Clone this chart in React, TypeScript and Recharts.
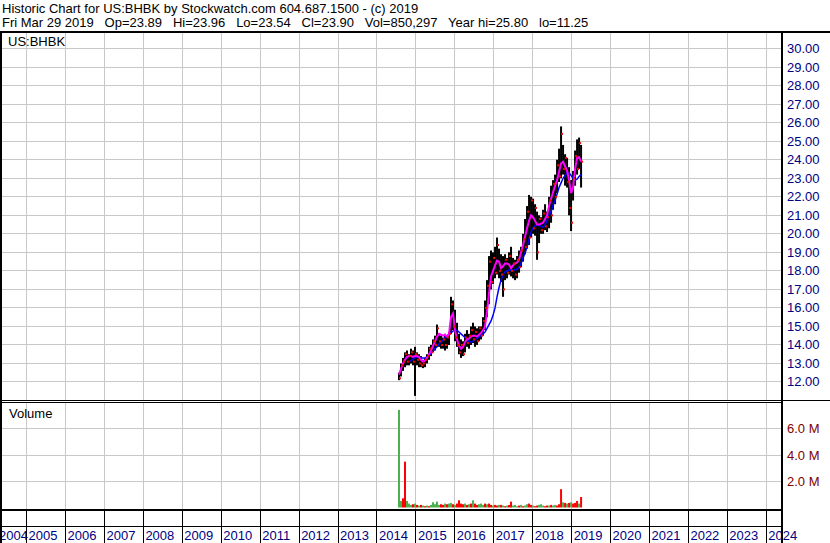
import { ComposedChart, Bar, Line, Scatter, XAxis, YAxis, CartesianGrid, Cell } from 'recharts';

// one plotted bar every ~19 days, first one in late July 2014
const FIRST_BAR = 2014.565;
const BAR_STEP = 0.0514;

const HIGH = [
  12.5, 13.0, 13.3, 13.6, 13.7, 13.5, 13.8, 13.7, 13.9, 13.6, 13.5, 13.4, 13.2, 13.3, 13.5, 13.9, 14.0, 14.3, 14.5, 15.1,
  14.6, 14.5, 14.4, 14.6, 14.5, 14.7, 16.6, 16.4, 15.9, 15.2, 14.6, 14.3, 14.2, 14.6, 14.8, 14.6, 15.0, 15.2, 15.0, 14.9,
  15.0, 15.0, 15.5, 16.4, 17.5, 18.8, 19.1, 19.0, 19.3, 19.8, 19.2, 18.9, 18.8, 18.9, 18.7, 19.0, 19.3, 18.7, 18.6, 18.8,
  19.1, 19.3, 20.0, 20.8, 21.5, 22.1, 22.0, 21.9, 21.6, 21.2, 21.0, 20.9, 21.3, 21.6, 21.2, 22.0, 22.6, 22.9, 23.2, 24.0,
  24.6, 25.8, 24.8, 24.3, 24.1, 23.6, 22.9, 23.4, 24.5, 25.1, 25.2, 24.8,
];
const LOW = [
  12.1, 12.3, 12.6, 12.8, 12.9, 12.9, 13.0, 12.9, 11.25, 12.9, 12.8, 12.8, 12.75, 12.8, 13.0, 13.2, 13.4, 13.6, 13.7, 13.9,
  13.9, 13.8, 13.8, 13.7, 13.8, 14.0, 14.6, 14.8, 14.2, 13.9, 13.5, 13.3, 13.4, 13.6, 13.9, 13.8, 14.0, 14.1, 13.9, 14.0,
  14.2, 14.3, 14.5, 14.8, 15.5, 16.2, 17.0, 17.3, 17.6, 17.8, 17.6, 17.4, 16.6, 17.5, 17.6, 17.8, 17.7, 17.6, 17.5, 17.6,
  17.9, 18.2, 18.5, 18.9, 19.2, 19.4, 19.8, 20.0, 19.9, 18.6, 19.5, 20.0, 20.0, 20.2, 20.1, 20.3, 20.6, 21.3, 21.6, 22.2,
  22.8, 23.0, 23.2, 22.6, 22.5, 21.0, 20.15, 21.8, 22.6, 23.2, 23.5, 22.5,
];
const CLOSE = [
  12.2, 12.9, 13.1, 13.5, 13.1, 13.4, 13.6, 13.1, 13.5, 13.2, 13.0, 12.9, 13.0, 13.2, 13.4, 13.8, 13.6, 14.2, 14.0, 14.9,
  14.2, 14.0, 14.3, 14.0, 14.4, 14.6, 16.2, 15.0, 14.4, 14.0, 13.6, 14.0, 13.5, 14.4, 14.1, 14.5, 14.8, 14.3, 14.7, 14.2,
  14.9, 14.5, 15.3, 16.0, 17.2, 18.5, 17.4, 18.7, 17.9, 19.4, 18.0, 17.8, 17.0, 18.6, 17.9, 18.8, 18.0, 18.4, 17.8, 18.6,
  18.2, 19.1, 19.7, 19.3, 21.2, 19.8, 21.8, 20.3, 21.4, 19.0, 20.8, 20.2, 21.1, 20.4, 20.9, 21.8, 21.0, 22.7, 22.0, 23.7,
  23.1, 25.4, 23.5, 24.1, 22.8, 21.4, 20.6, 23.0, 24.2, 23.5, 24.9, 23.9,
];
const MA_FAST = [
  12.4, 12.7, 13.0, 13.2, 13.35, 13.4, 13.4, 13.35, 13.4, 13.4, 13.35, 13.2, 13.1, 13.15, 13.3, 13.5, 13.7, 13.95, 14.2, 14.45,
  14.6, 14.55, 14.5, 14.55, 14.45, 14.6, 15.5, 15.7, 14.8, 14.3, 13.95, 13.8, 13.9, 14.15, 14.3, 14.35, 14.45, 14.5, 14.5, 14.45,
  14.55, 14.65, 14.8, 15.0, 15.8, 16.8, 17.7, 18.0, 18.3, 18.55, 18.5, 18.15, 18.25, 18.4, 18.4, 18.35, 18.15, 18.3, 18.4, 18.45,
  18.6, 19.0, 19.4, 19.85, 20.3, 20.7, 21.0, 20.9, 20.7, 20.5, 20.5, 20.55, 20.6, 20.8, 21.0, 21.5, 21.9, 22.25, 22.6, 22.9,
  23.35, 23.8, 23.9, 23.65, 23.4, 22.9, 22.2, 22.5, 23.5, 24.1, 24.15, 23.9,
];
const MA_SLOW = [
  null, null, null, null, null, 13.1, 13.15, 13.25, 13.3, 13.35, 13.35, 13.3, 13.3, 13.3, 13.35, 13.45, 13.55, 13.65, 13.8, 13.9,
  14.05, 14.15, 14.25, 14.4, 14.5, 14.55, 14.65, 14.75, 14.8, 14.8, 14.7, 14.6, 14.5, 14.4, 14.3, 14.2, 14.15, 14.2, 14.3, 14.35,
  14.45, 14.5, 14.6, 14.7, 14.9, 15.1, 15.3, 15.6, 16.0, 16.6, 17.1, 17.5, 17.8, 17.95, 18.0, 18.05, 18.05, 18.05, 18.05, 18.1,
  18.2, 18.4, 18.7, 18.95, 19.3, 19.7, 20.1, 20.3, 20.45, 20.5, 20.45, 20.4, 20.35, 20.5, 20.7, 21.0, 21.2, 21.55, 21.8, 22.15,
  22.5, 22.75, 23.0, 23.15, 23.3, 23.3, 23.15, 23.0, 22.9, 22.95, 23.1, 23.2,
];
// volume in millions, g = up day, r = down day
const VOLUME = [
  7.45, 0.5, 0.7, 3.5, 0.5, 0.3, 0.2, 0.25, 0.3, 0.2, 0.15, 0.2, 0.15, 0.1, 0.15, 0.1, 0.2, 0.4, 0.25, 0.45,
  0.2, 0.25, 0.2, 0.3, 0.25, 0.3, 0.35, 0.25, 0.2, 0.3, 0.55, 0.3, 0.25, 0.3, 0.2, 0.25, 0.3, 0.55, 0.3, 0.2,
  0.25, 0.3, 0.2, 0.3, 0.25, 0.3, 0.2, 0.15, 0.2, 0.15, 0.2, 0.2, 0.15, 0.1, 0.15, 0.2, 0.45, 0.15, 0.2, 0.1,
  0.15, 0.2, 0.1, 0.15, 0.25, 0.3, 0.2, 0.15, 0.1, 0.15, 0.2, 0.25, 0.15, 0.1, 0.15, 0.15, 0.2, 0.15, 0.2, 0.15,
  0.25, 1.4, 0.4, 0.35, 0.3, 0.35, 0.4, 0.3, 0.35, 0.5, 0.3, 0.8,
];
const VOLUME_DIR = 'ggrrgggrgrgrgrgrgggggrrgrggrgrrrrgrgrgrrgggrgrrgrrgrgrgrrgggrgrggrrgrrgggrrgrggrrrgrgrgrrrgrrgg'.split('');

const YEAR_LINES = [2005, 2006, 2007, 2008, 2009, 2010, 2011, 2012, 2013, 2014, 2015, 2016, 2017, 2018, 2019, 2020, 2021, 2022, 2023, 2024];
const PRICE_TICKS = [12, 13, 14, 15, 16, 17, 18, 19, 20, 21, 22, 23, 24, 25, 26, 27, 28, 29, 30];
const VOLUME_TICKS = [2, 4, 6];

const X_DOMAIN: [number, number] = [2004.342, 2024.378];
const PX_PER_YEAR = 780 / (X_DOMAIN[1] - X_DOMAIN[0]);
const FONT = '"Liberation Sans", Arial, sans-serif';
const GRID = '#C8C8C8';

const rows = HIGH.map((h, i) => ({
  t: FIRST_BAR + i * BAR_STEP,
  range: [LOW[i], h],
  close: CLOSE[i],
  fast: MA_FAST[i],
  slow: MA_SLOW[i],
  vol: VOLUME[i],
  dir: VOLUME_DIR[i],
}));

function PriceTick(props: any) {
  return (
    <text x={787} y={props.y + 4.5} fontSize={13} fontFamily={FONT} fill="#000080">
      {Number(props.payload.value).toFixed(2)}
    </text>
  );
}

function VolumeTick(props: any) {
  return (
    <text x={787} y={props.y + 4.5} fontSize={13} fontFamily={FONT} fill="#800000">
      {Number(props.payload.value).toFixed(1) + ' M'}
    </text>
  );
}

function YearTick(props: any) {
  const x = props.x;
  const year = props.payload.value;
  return (
    <g>
      <line x1={x} x2={x} y1={108} y2={141} stroke="#000" shapeRendering="crispEdges" />
      <text x={x + 2} y={138} fontSize={13} fontFamily={FONT} fill="#000080">{year}</text>
      {year === YEAR_LINES[0] && (
        <text x={Math.max(x - PX_PER_YEAR + 2, -1)} y={138} fontSize={13} fontFamily={FONT} fill="#000080">{year - 1}</text>
      )}
    </g>
  );
}

function CloseMark(props: any) {
  if (props.cx == null || props.cy == null) return null;
  return <rect x={props.cx} y={props.cy - 1} width={2} height={2} fill="#FF0000" />;
}

function hline(top: number, left: number, width: number, h: number) {
  return <div style={{ position: 'absolute', top, left, width, height: h, background: '#000' }} />;
}
function vline(left: number, top: number, height: number, w: number) {
  return <div style={{ position: 'absolute', top, left, width: w, height, background: '#000' }} />;
}

export default function App() {
  return (
    <div style={{ position: 'absolute', left: 0, top: 0, width: 830, height: 543, background: '#fff', overflow: 'hidden' }}>
      <div style={{ position: 'absolute', left: 0, top: 0 }}>
        <ComposedChart width={830} height={400} data={rows} margin={{ top: 33, right: 0, bottom: 0, left: 1 }}>
          <CartesianGrid stroke={GRID} shapeRendering="crispEdges" verticalValues={YEAR_LINES} horizontalValues={PRICE_TICKS} />
          <XAxis dataKey="t" type="number" domain={X_DOMAIN} ticks={YEAR_LINES} allowDataOverflow hide />
          <YAxis
            orientation="right"
            width={49}
            type="number"
            domain={[11.028, 30.845]}
            ticks={PRICE_TICKS}
            allowDataOverflow
            axisLine={false}
            tickLine={false}
            tick={<PriceTick />}
            interval={0}
          />
          <Bar dataKey="range" fill="#000" barSize={2} isAnimationActive={false} />
          <Scatter dataKey="close" shape={<CloseMark />} isAnimationActive={false} />
          <Line dataKey="slow" type="linear" stroke="#0000FF" strokeWidth={1.5} dot={false} isAnimationActive={false} />
          <Line dataKey="fast" type="linear" stroke="#FF00FF" strokeWidth={2} dot={false} isAnimationActive={false} />
        </ComposedChart>
      </div>
      <div style={{ position: 'absolute', left: 0, top: 402 }}>
        <ComposedChart width={830} height={141} data={rows} margin={{ top: 0, right: 0, bottom: 0, left: 1 }}>
          <CartesianGrid stroke={GRID} shapeRendering="crispEdges" verticalValues={YEAR_LINES} horizontalValues={VOLUME_TICKS} />
          <XAxis
            dataKey="t"
            type="number"
            domain={X_DOMAIN}
            ticks={YEAR_LINES}
            allowDataOverflow
            height={33}
            axisLine={false}
            tickLine={false}
            tick={<YearTick />}
            interval={0}
          />
          <YAxis
            orientation="right"
            width={49}
            type="number"
            domain={[-0.19, 8.05]}
            ticks={VOLUME_TICKS}
            allowDataOverflow
            axisLine={false}
            tickLine={false}
            tick={<VolumeTick />}
            interval={0}
          />
          <Bar dataKey="vol" barSize={2} isAnimationActive={false}>
            {rows.map((r, i) => (
              <Cell key={i} fill={r.dir === 'g' ? '#4CAF50' : '#FF0000'} />
            ))}
          </Bar>
        </ComposedChart>
      </div>

      <svg width={830} height={543} style={{ position: 'absolute', left: 0, top: 0, pointerEvents: 'none' }}>
        <text x={2} y={13} fontSize={13} fontFamily={FONT} fill="#000">
          Historic Chart for US:BHBK by Stockwatch.com 604.687.1500 - (c) 2019
        </text>
        <text x={2} y={27} fontSize={13} fontFamily={FONT} fill="#000" style={{ whiteSpace: 'pre' }}>
          {'Fri Mar 29 2019   Op=23.89   Hi=23.96   Lo=23.54   Cl=23.90   Vol=850,297   Year hi=25.80   lo=11.25'}
        </text>
        <text x={8} y={46} fontSize={13} fontFamily={FONT} fill="#000">US:BHBK</text>
        <text x={9} y={418} fontSize={13} fontFamily={FONT} fill="#000">Volume</text>
      </svg>

      {hline(31, 0, 830, 2)}
      {vline(0, 31, 512, 2)}
      {vline(781, 31, 512, 2)}
      {hline(400, 0, 830, 1)}
      {hline(402, 0, 781, 1)}
      {hline(509, 0, 781, 2)}
      {hline(526, 0, 781, 1)}
    </div>
  );
}
